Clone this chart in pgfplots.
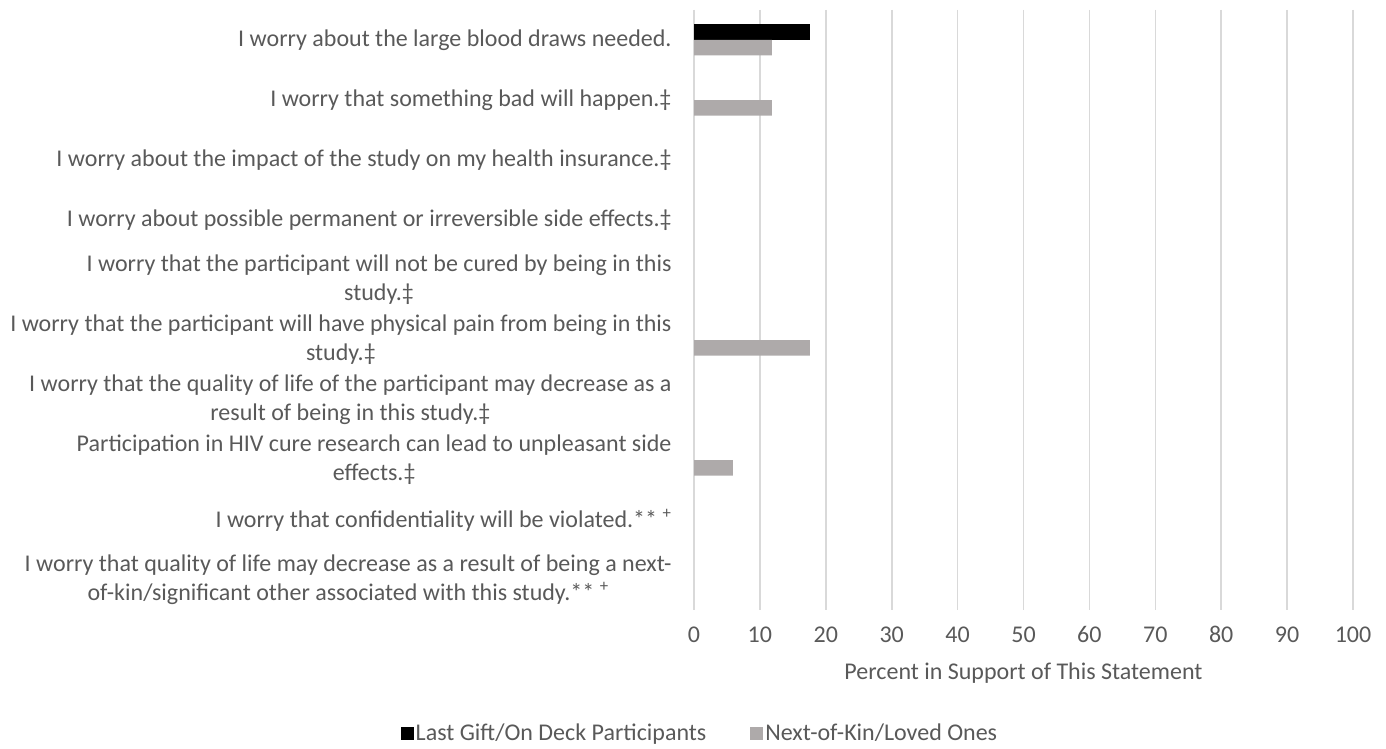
\documentclass[border=0pt]{standalone}
\usepackage{fontspec}
\setmainfont{Carlito}
\usepackage{pgfplots}
\pgfplotsset{compat=1.18}
\definecolor{txtgray}{HTML}{595959}
\definecolor{kin}{HTML}{AEAAAA}
\definecolor{gridc}{HTML}{D9D9D9}

\begin{document}
\begin{tikzpicture}
\useasboundingbox (0,0) rectangle (1386pt,748pt);
\begin{axis}[
    at={(694pt,138pt)}, anchor=south west,
    scale only axis,
    width=659pt, height=600pt,
    xbar=0pt, bar width=15.5pt,
    xmin=0, xmax=100,
    ymin=-0.5, ymax=9.5,
    y dir=reverse,
    axis line style={draw=none},
    xtick={0,10,...,100},
    xmajorgrids, major grid style={gridc, line width=1.6pt},
    tick style={draw=none},
    ytick={0,...,9},
    yticklabels={
      {I worry about the large blood draws needed.},
      {I worry that something bad will happen.‡},
      {I worry about the impact of the study on my health insurance.‡},
      {I worry about possible permanent or irreversible side effects.‡},
      {I worry that the participant will not be cured by being in this\\study.‡},
      {I worry that the participant will have physical pain from being in this\\study.‡},
      {I worry that the quality of life of the participant may decrease as a\\result of being in this study.‡},
      {Participation in HIV cure research can lead to unpleasant side\\effects.‡},
      {I worry that confidentiality will be violated.** \textsuperscript{+}},
      {I worry that quality of life may decrease as a result of being a next-\\of-kin/significant other associated with this study.** \textsuperscript{+}}
    },
    yticklabel style={align=center, font=\fontsize{24}{29}\selectfont, text=txtgray,
      inner sep=0pt, xshift=-18pt},
    xticklabel style={font=\fontsize{24}{29}\selectfont, text=txtgray,
      anchor=north, inner sep=0pt, text height=15pt, text depth=0pt, yshift=-17pt},
    /pgf/number format/assume math mode=true,
    xlabel={Percent in Support of This Statement},
    xlabel style={font=\fontsize{24}{29}\selectfont, text=txtgray, yshift=-17pt},
    legend style={at={(0.009,-0.205)}, anchor=center, draw=none, fill=none,
      legend columns=2, font=\fontsize{24}{29}\selectfont, text=txtgray,
      /tikz/every even column/.append style={column sep=42pt}},
    legend image code/.code={\fill[#1] (0pt,-6.5pt) rectangle (13pt,6.5pt);},
    restrict x to domain=0.01:200,
  ]
  \addplot[fill=black, draw=none, bar shift=7.75pt] coordinates {
    (17.6,0) (0,1) (0,2) (0,3) (0,4) (0,5) (0,6) (0,7) (0,8) (0,9)};
  \addplot[fill=kin, draw=none, bar shift=-7.75pt] coordinates {
    (11.8,0) (11.8,1) (0,2) (0,3) (0,4) (17.6,5) (0,6) (5.9,7) (0,8) (0,9)};
  \legend{Last Gift/On Deck Participants, Next-of-Kin/Loved Ones}
\end{axis}
\end{tikzpicture}
\end{document}
